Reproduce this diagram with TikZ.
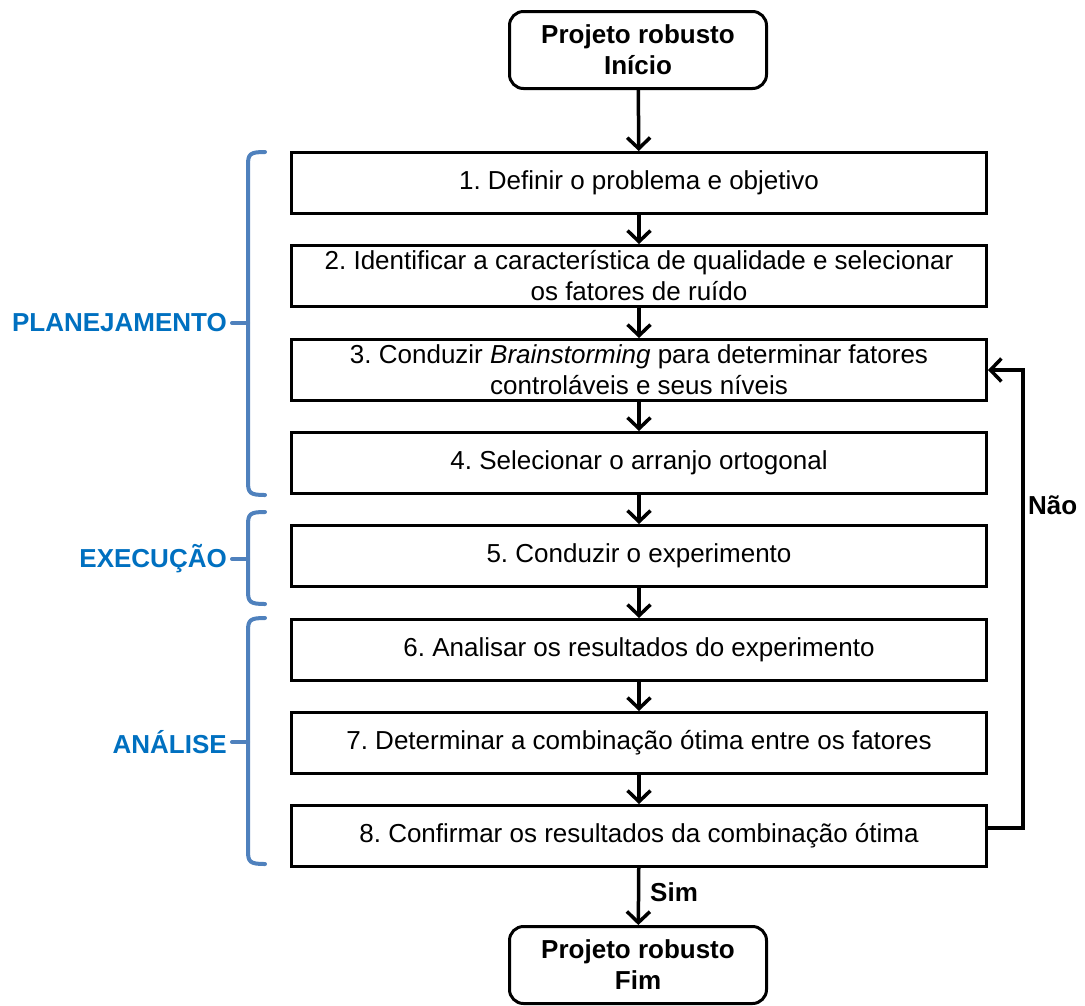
\documentclass[tikz,border=0pt]{standalone}
\usepackage{fontspec}
\setmainfont{Liberation Sans}
\usetikzlibrary{arrows.meta}
\definecolor{bracecol}{HTML}{4F81BD}
\definecolor{labelcol}{HTML}{0070C0}
\frenchspacing
\begin{document}
\begin{tikzpicture}[x=1pt,y=-1pt,
  every node/.style={font=\fontsize{26}{31}\selectfont},
  stepbox/.style={draw, line width=3pt, minimum width=695pt, minimum height=61pt,
    align=center, inner sep=0pt},
  termbox/.style={draw, line width=3pt, rounded corners=14pt, minimum width=257pt,
    minimum height=77pt, align=center, inner sep=0pt,
    font=\fontsize{26}{31}\selectfont\bfseries},
  flow/.style={line width=3.5pt, -{Straight Barb[length=11pt,width=23pt]}},
  brace/.style={draw=bracecol, line width=4pt, line cap=round, line join=round},
  phase/.style={text=labelcol, font=\fontsize{26}{31}\selectfont\bfseries,
    anchor=east, inner sep=0pt},
  tag/.style={font=\fontsize{26}{31}\selectfont\bfseries, inner sep=0pt}
]
\useasboundingbox (0,0) rectangle (1085,1005);

% terminal boxes
\node[termbox] (start) at (638,50) {Projeto robusto\\Início};
\node[termbox] (stop)  at (638,965) {Projeto robusto\\Fim};

% process steps
\node[stepbox] (b1) at (639,183) {1. Definir o problema e objetivo};
\node[stepbox] (b2) at (639,276) {2. Identificar a característica de qualidade e selecionar\\os fatores de ruído};
\node[stepbox] (b3) at (639,370) {3. Conduzir \textit{Brainstorming} para determinar fatores\\controláveis e seus níveis};
\node[stepbox] (b4) at (639,463) {4. Selecionar o arranjo ortogonal};
\node[stepbox] (b5) at (639,556) {5. Conduzir o experimento};
\node[stepbox] (b6) at (639,650) {6. Analisar os resultados do experimento};
\node[stepbox] (b7) at (639,743) {7. Determinar a combinação ótima entre os fatores};
\node[stepbox] (b8) at (639,836) {8. Confirmar os resultados da combinação ótima};

% main flow
\draw[flow] (start) -- (b1);
\draw[flow] (b1) -- (b2);
\draw[flow] (b2) -- (b3);
\draw[flow] (b3) -- (b4);
\draw[flow] (b4) -- (b5);
\draw[flow] (b5) -- (b6);
\draw[flow] (b6) -- (b7);
\draw[flow] (b7) -- (b8);
\draw[flow] (b8) -- (stop);
\node[tag, anchor=west] (sim) at (650,892) {Sim};

% feedback loop
\draw[flow] ([yshift=8pt]b8.east) -- ++(35,0) |- (b3.east);
\node[tag, anchor=west] (nao) at (1028,505) {Não};

% phase brackets
\draw[brace] (265,152) .. controls (250,152) and (248,154) .. (248,165)
  -- (248,482) .. controls (248,493) and (250,495) .. (265,495);
\draw[brace] (232,323) -- (248,323);
\node[phase] (plan) at (227,323) {PLANEJAMENTO};

\draw[brace] (265,512) .. controls (250,512) and (248,514) .. (248,525)
  -- (248,591) .. controls (248,602) and (250,604) .. (265,604);
\draw[brace] (232,559) -- (248,559);
\node[phase] (exec) at (227,559) {EXECUÇÃO};

\draw[brace] (265,618) .. controls (250,618) and (248,620) .. (248,631)
  -- (248,851) .. controls (248,862) and (250,864) .. (265,864);
\draw[brace] (232,742) -- (248,742);
\node[phase] (anal) at (227,742) {ANÁLISE};
\end{tikzpicture}
\end{document}
